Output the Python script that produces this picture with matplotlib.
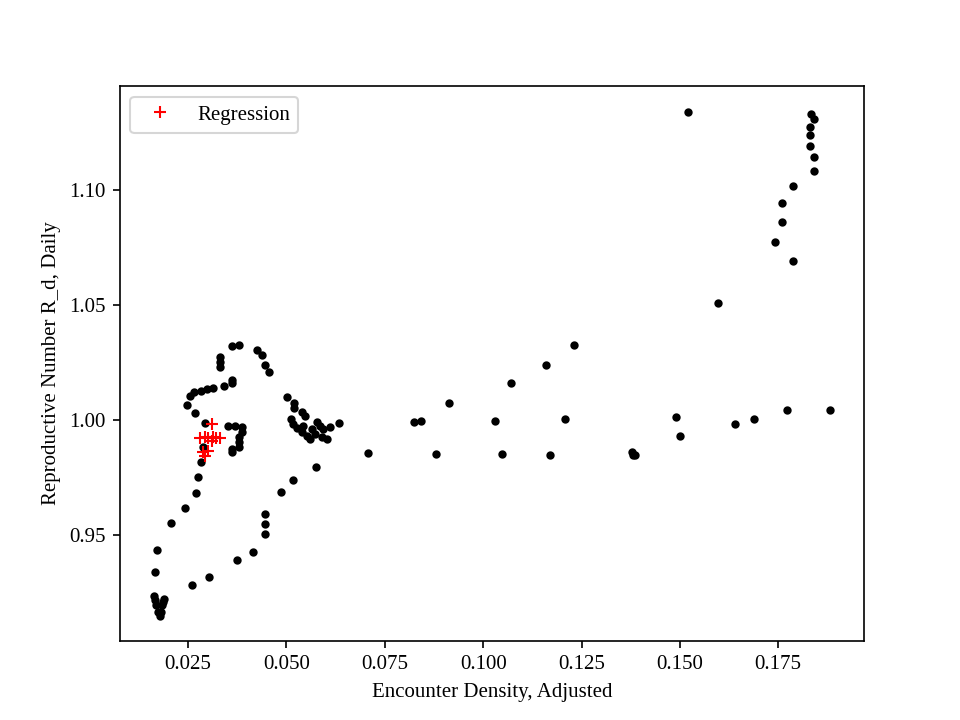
import matplotlib
matplotlib.use("Agg")
import matplotlib.pyplot as plt

plt.rcParams['font.family'] = ['Liberation Serif', 'DejaVu Serif']

# observed points (encounter density vs. daily reproductive number)
density = [
    0.1521, 0.1834, 0.1842, 0.1830, 0.1830, 0.1830, 0.1842, 0.1842, 0.1787, 0.1759,
    0.1759, 0.1743, 0.1787, 0.1597, 0.1230, 0.1159, 0.1072, 0.0914, 0.0825, 0.0843,
    0.1029, 0.1207, 0.1490, 0.1500, 0.1640, 0.1689, 0.1773, 0.1882, 0.0708, 0.0879,
    0.1047, 0.1169, 0.1378, 0.1380, 0.1385, 0.0575, 0.0517, 0.0487, 0.0446, 0.0446,
    0.0446, 0.0416, 0.0375, 0.0303, 0.0260, 0.0163, 0.0189, 0.0165, 0.0186, 0.0169,
    0.0185, 0.0174, 0.0182, 0.0178, 0.0166, 0.0171, 0.0207, 0.0242, 0.0270, 0.0275,
    0.0283, 0.0288, 0.0292, 0.0268, 0.0247, 0.0256, 0.0264, 0.0284, 0.0297, 0.0314,
    0.0342, 0.0361, 0.0361, 0.0331, 0.0331, 0.0331, 0.0361, 0.0380, 0.0424, 0.0437,
    0.0446, 0.0455, 0.0502, 0.0519, 0.0519, 0.0540, 0.0547, 0.0634, 0.0511, 0.0517,
    0.0526, 0.0539, 0.0541, 0.0552, 0.0564, 0.0577, 0.0585, 0.0594, 0.0590, 0.0603,
    0.0611, 0.0573, 0.0560, 0.0352, 0.0369, 0.0386, 0.0388, 0.0380, 0.0380, 0.0380,
    0.0361, 0.0361,
]
rd_daily = [
    1.1342, 1.1331, 1.1309, 1.1277, 1.1241, 1.1193, 1.1143, 1.1082, 1.1017, 1.0943,
    1.0860, 1.0777, 1.0691, 1.0509, 1.0327, 1.0240, 1.0162, 1.0075, 0.9992, 0.9997,
    0.9997, 1.0005, 1.0014, 0.9931, 0.9983, 1.0005, 1.0044, 1.0044, 0.9857, 0.9853,
    0.9853, 0.9849, 0.9862, 0.9849, 0.9849, 0.9797, 0.9740, 0.9687, 0.9592, 0.9548,
    0.9504, 0.9426, 0.9392, 0.9319, 0.9284, 0.9237, 0.9223, 0.9216, 0.9209, 0.9194,
    0.9194, 0.9165, 0.9165, 0.9150, 0.9339, 0.9436, 0.9553, 0.9617, 0.9682, 0.9752,
    0.9817, 0.9882, 0.9988, 1.0031, 1.0066, 1.0106, 1.0121, 1.0128, 1.0136, 1.0141,
    1.0150, 1.0160, 1.0176, 1.0273, 1.0252, 1.0230, 1.0321, 1.0328, 1.0305, 1.0285,
    1.0240, 1.0208, 1.0100, 1.0075, 1.0052, 1.0037, 1.0017, 0.9987, 1.0005, 0.9983,
    0.9965, 0.9947, 0.9976, 0.9933, 0.9962, 0.9991, 0.9976, 0.9962, 0.9926, 0.9918,
    0.9969, 0.9940, 0.9918, 0.9976, 0.9976, 0.9969, 0.9947, 0.9926, 0.9904, 0.9882,
    0.9875, 0.9863,
]

# regression points
reg_density = [0.0312, 0.0280, 0.0292, 0.0301, 0.0314, 0.0322, 0.0331, 0.0310, 0.0288, 0.0301, 0.0292]
reg_rd = [0.9983, 0.9921, 0.9926, 0.9921, 0.9926, 0.9921, 0.9921, 0.9911, 0.9860, 0.9867, 0.9846]

fig, ax = plt.subplots(figsize=(6.4, 4.8), dpi=150)
ax.plot(density, rd_daily, 'k.', linestyle='none')
ax.plot(reg_density, reg_rd, 'r+', linestyle='none', label="Regression")

ax.set_xlabel("Encounter Density, Adjusted")
ax.set_ylabel("Reproductive Number R_d, Daily")
ax.set_xticks([0.025, 0.050, 0.075, 0.100, 0.125, 0.150, 0.175])
ax.set_xticklabels(["0.025", "0.050", "0.075", "0.100", "0.125", "0.150", "0.175"])
ax.set_yticks([0.95, 1.00, 1.05, 1.10])
ax.set_yticklabels(["0.95", "1.00", "1.05", "1.10"])
ax.legend(loc='upper left')

fig.savefig("out.png", dpi=150)
